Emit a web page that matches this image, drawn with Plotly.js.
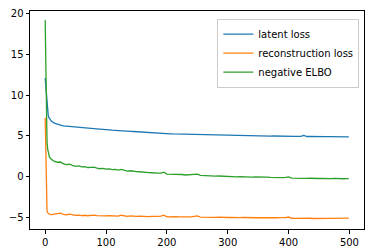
<!DOCTYPE html>
<html>
<head>
<meta charset="utf-8">
<script src="https://cdn.plot.ly/plotly-3.0.1.min.js"></script>
<style>html,body{margin:0;padding:0;background:#fff;}#chart{width:374px;height:252px;}</style>
</head>
<body>
<div id="chart"></div>
<script>
var epochs = [0,1,2,3,4,5,6,7,8,9,10,15,20,25,30,35,40,45,50,55,60,65,70,75,80,85,90,95,100,105,110,115,120,125,130,135,140,145,150,155,160,165,170,175,180,185,190,195,200,205,210,215,220,225,230,235,240,245,250,255,260,265,270,275,280,285,290,295,300,305,310,315,320,325,330,335,340,345,350,355,360,365,370,375,380,385,390,395,400,405,410,415,420,425,430,435,440,445,450,455,460,465,470,475,480,485,490,495,499];

var latentLoss = [12.1,11.0,9.5,8.5,7.9,7.5,7.25,7.1,7.0,6.9,6.8,
6.55,6.4,6.31,6.22,6.18,6.12,6.1,6.05,6.03,6.0,5.98,5.94,5.92,5.88,5.85,5.8,5.78,5.74,
5.73,5.69,5.67,5.63,5.61,5.58,5.56,5.53,5.52,5.49,5.47,5.43,5.42,5.38,5.36,5.33,5.32,5.29,5.28,5.25,
5.24,5.22,5.21,5.19,5.19,5.16,5.16,5.14,5.14,5.12,5.12,5.1,5.1,5.08,5.09,5.07,5.07,5.06,5.06,5.05,
5.05,5.03,5.04,5.02,5.02,5.0,5.01,4.99,5.0,4.98,4.99,4.97,4.98,4.96,4.97,4.95,4.96,4.94,4.95,4.93,
4.94,4.92,4.93,4.92,5.04,4.91,4.92,4.9,4.91,4.9,4.91,4.89,4.9,4.89,4.9,4.88,4.89,4.88,4.89,4.87];

var reconLoss = [7.2,1.0,-3.5,-4.2,-4.45,-4.55,-4.6,-4.63,-4.65,-4.66,-4.68,
-4.62,-4.58,-4.5,-4.66,-4.7,-4.62,-4.72,-4.78,-4.74,-4.8,-4.76,-4.82,-4.78,-4.74,-4.8,-4.84,-4.79,-4.85,
-4.82,-4.87,-4.83,-4.88,-4.76,-4.86,-4.9,-4.84,-4.88,-4.9,-4.86,-4.91,-4.88,-4.92,-4.89,-4.93,-4.9,-4.88,-4.76,-4.95,
-4.92,-4.96,-4.93,-4.97,-4.94,-4.98,-4.95,-4.97,-4.94,-4.84,-4.98,-5.0,-4.97,-5.01,-4.99,-5.02,-5.0,-5.03,-5.01,-5.04,
-5.02,-5.05,-5.03,-5.05,-5.04,-5.06,-5.04,-5.06,-5.05,-5.07,-5.05,-5.07,-5.06,-5.08,-5.06,-5.07,-5.05,-5.07,-5.06,-4.98,
-5.13,-5.14,-5.12,-5.15,-5.13,-5.15,-5.13,-5.16,-5.14,-5.15,-5.13,-5.16,-5.14,-5.15,-5.13,-5.15,-5.14,-5.16,-5.13,-5.12];

var negativeElbo = [19.2,12.0,6.0,4.3,3.4,2.9,2.6,2.4,2.3,2.2,2.1,
1.85,1.75,1.78,1.55,1.45,1.5,1.35,1.25,1.3,1.18,1.2,1.1,1.12,1.15,1.02,0.95,1.0,0.9,
0.92,0.84,0.86,0.78,0.88,0.74,0.66,0.7,0.62,0.6,0.58,0.52,0.54,0.47,0.46,0.4,0.42,0.41,0.52,0.3,
0.3,0.25,0.27,0.22,0.24,0.18,0.2,0.17,0.19,0.28,0.13,0.1,0.12,0.07,0.09,0.05,0.06,0.03,0.04,0.01,
-0.02,-0.02,-0.05,-0.03,-0.06,-0.06,-0.04,-0.07,-0.06,-0.09,-0.07,-0.1,-0.09,-0.12,-0.1,-0.12,-0.1,-0.13,-0.12,-0.05,
-0.2,-0.22,-0.2,-0.23,-0.21,-0.24,-0.22,-0.26,-0.24,-0.25,-0.23,-0.27,-0.25,-0.26,-0.24,-0.27,-0.25,-0.28,-0.26,-0.27];

var seriesNames = ['latent loss','reconstruction loss','negative ELBO'];
var seriesColors = ['#1f77b4','#ff7f0e','#2ca02c'];
var xTicks = [0,100,200,300,400,500];
var yTicks = [-5,0,5,10,15,20];

var allSeries = [latentLoss, reconLoss, negativeElbo];
var traces = allSeries.map(function(ys, i){
  return {x: epochs, y: ys, type: 'scatter', mode: 'lines', name: seriesNames[i],
          line: {color: seriesColors[i], width: 1.3}};
});

var font = {family: 'DejaVu Sans, sans-serif', size: 10, color: '#000'};
var layout = {
  width: 374, height: 252,
  margin: {l: 30, r: 10, t: 11, b: 23, pad: 0},
  paper_bgcolor: '#fff', plot_bgcolor: '#fff',
  font: font,
  showlegend: true,
  legend: {x: 0.986, y: 0.965, xanchor: 'right', yanchor: 'top',
           bgcolor: 'rgba(255,255,255,0.8)', bordercolor: '#cccccc', borderwidth: 1,
           font: font, itemwidth: 30, tracegroupgap: 0},
  xaxis: {range: [-24.95, 523.95], tickvals: xTicks, ticktext: xTicks.map(String),
          showgrid: false, zeroline: false, showline: true, mirror: true,
          linecolor: '#000', linewidth: 1, ticks: 'outside', ticklen: 3.5, tickcolor: '#000',
          tickfont: font},
  yaxis: {range: [-6.45, 20.32], tickvals: yTicks, ticktext: yTicks.map(function(v){return v<0 ? '\u2212'+Math.abs(v) : String(v);}),
          showgrid: false, zeroline: false, showline: true, mirror: true,
          linecolor: '#000', linewidth: 1, ticks: 'outside', ticklen: 3.5, tickcolor: '#000',
          tickfont: font}
};
Plotly.newPlot('chart', traces, layout, {displayModeBar: false, staticPlot: true});
</script>
</body>
</html>
